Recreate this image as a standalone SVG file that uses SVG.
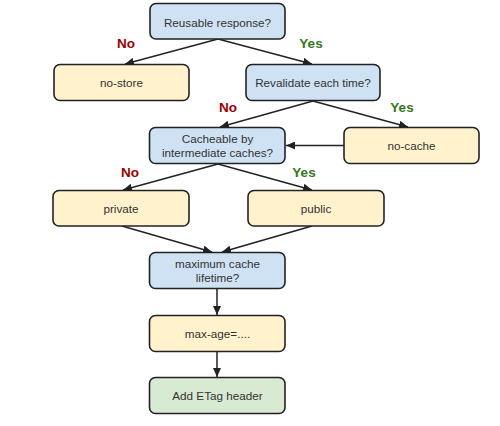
<svg xmlns="http://www.w3.org/2000/svg" width="500" height="426" viewBox="0 0 500 426">
<style>
.box{stroke:#222;stroke-width:1.6}
.q{fill:#cfe2f3}
.a{fill:#fff2cc}
.g{fill:#d9ead3}
.t{font-family:"Liberation Sans",Arial,sans-serif;font-size:11.7px;fill:#333;text-anchor:middle}
.no{font-family:"Liberation Sans",Arial,sans-serif;font-size:13.5px;font-weight:bold;fill:#990000;text-anchor:middle}
.yes{font-family:"Liberation Sans",Arial,sans-serif;font-size:13.5px;font-weight:bold;fill:#38761d;text-anchor:middle}
.c{stroke:#222;stroke-width:1.5;fill:none;marker-end:url(#arr)}
</style>
<defs>
<marker id="arr" markerUnits="userSpaceOnUse" markerWidth="10" markerHeight="8" refX="9" refY="4" orient="auto">
<path d="M0,0 L9,4 L0,8 Z" fill="#222"/>
</marker>
</defs>
<rect width="500" height="426" fill="#fff"/>
<g id="connectors">
<line class="c" x1="218" y1="39" x2="125" y2="64"/>
<line class="c" x1="218" y1="39" x2="312" y2="64"/>
<line class="c" x1="313" y1="101" x2="220" y2="127"/>
<line class="c" x1="313" y1="101" x2="408" y2="127"/>
<line class="c" x1="344" y1="145.5" x2="286" y2="145.5"/>
<line class="c" x1="218" y1="164" x2="123" y2="190"/>
<line class="c" x1="218" y1="164" x2="312" y2="190"/>
<line class="c" x1="122" y1="226" x2="212" y2="252"/>
<line class="c" x1="312" y1="226" x2="222" y2="252"/>
<line class="c" x1="217" y1="289" x2="217" y2="315"/>
<line class="c" x1="217" y1="352" x2="217" y2="377"/>
</g>
<g id="labels">
<text class="no" x="126" y="48">No</text>
<text class="yes" x="311" y="48">Yes</text>
<text class="no" x="228" y="112">No</text>
<text class="yes" x="402" y="112">Yes</text>
<text class="no" x="130" y="177">No</text>
<text class="yes" x="304" y="177">Yes</text>
</g>
<g id="reusable">
<rect class="box q" x="150" y="3.5" width="135" height="35.5" rx="6"/>
<text class="t" x="217.5" y="26.5">Reusable response?</text>
</g>
<g id="no-store">
<rect class="box a" x="54" y="64.5" width="135" height="36" rx="6"/>
<text class="t" x="121.5" y="87.3">no-store</text>
</g>
<g id="revalidate">
<rect class="box q" x="246" y="64.5" width="134" height="36" rx="6"/>
<text class="t" x="313" y="87.3">Revalidate each time?</text>
</g>
<g id="cacheable">
<rect class="box q" x="149.5" y="127.5" width="135.5" height="36" rx="6"/>
<text class="t" x="217.5" y="142.7">Cacheable by</text>
<text class="t" x="217.5" y="156.5">intermediate caches?</text>
</g>
<g id="no-cache">
<rect class="box a" x="344" y="127.5" width="135" height="36" rx="6"/>
<text class="t" x="411.5" y="150.3">no-cache</text>
</g>
<g id="private">
<rect class="box a" x="53" y="190.5" width="136" height="35.5" rx="6"/>
<text class="t" x="121" y="213.3">private</text>
</g>
<g id="public">
<rect class="box a" x="248" y="190.5" width="136" height="35.5" rx="6"/>
<text class="t" x="316" y="213.3">public</text>
</g>
<g id="max-lifetime">
<rect class="box q" x="149.5" y="252.5" width="135.5" height="36" rx="6"/>
<text class="t" x="217.5" y="267.7">maximum cache</text>
<text class="t" x="217.5" y="281.5">lifetime?</text>
</g>
<g id="max-age">
<rect class="box a" x="149.5" y="315.5" width="135.5" height="36" rx="6"/>
<text class="t" x="217.5" y="338.3">max-age=....</text>
</g>
<g id="etag">
<rect class="box g" x="149.5" y="377.5" width="135.5" height="36" rx="6"/>
<text class="t" x="217.5" y="400.2">Add ETag header</text>
</g>
</svg>
